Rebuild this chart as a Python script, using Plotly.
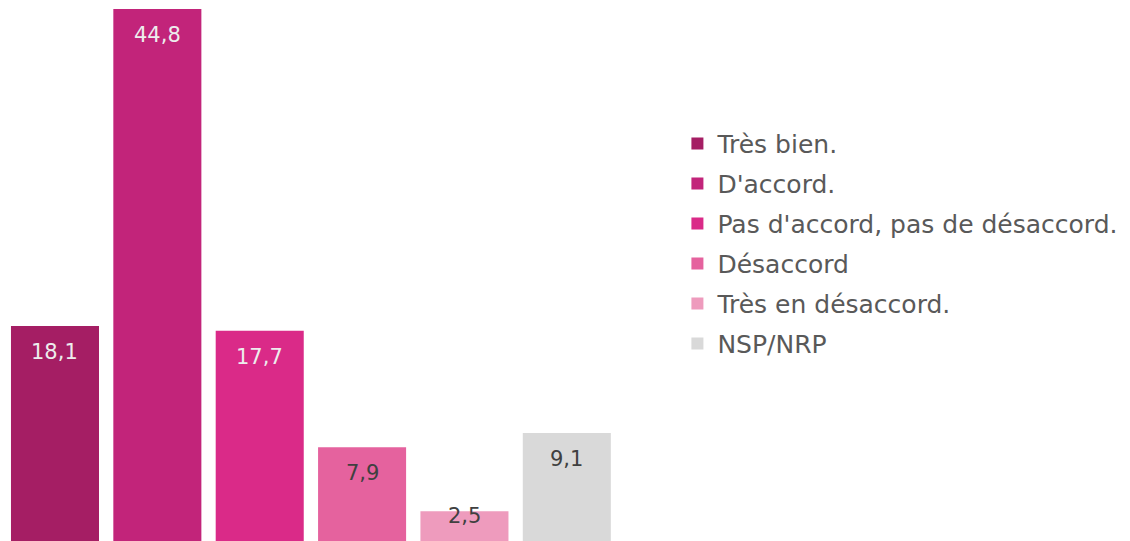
import plotly.graph_objects as go

categories = ["Très bien.", "D'accord.", "Pas d'accord, pas de désaccord.",
              "Désaccord", "Très en désaccord.", "NSP/NRP"]
values = [18.1, 44.8, 17.7, 7.9, 2.5, 9.1]
labels = ["18,1", "44,8", "17,7", "7,9", "2,5", "9,1"]
colors = ["#A51E64", "#C2247A", "#DA2A88", "#E5629E", "#EE9BBD", "#D9D9D9"]
label_colors = ["#EDEDED", "#EDEDED", "#EDEDED", "#404040", "#404040", "#404040"]

W, H = 1122, 533
mt, mb, ml, mr = 1, 0, 0, 512
plot_h = H - mt - mb
ymax = max(values)

fig = go.Figure()
for i, (c, v) in enumerate(zip(categories, values)):
    fig.add_trace(go.Bar(
        x=[i], y=[v], name=c, marker=dict(color=colors[i], line=dict(width=0)),
        legendgroup=f"g{i}", hoverinfo="skip",
    ))

annotations = []
for i, v in enumerate(values):
    bar_px = v / ymax * plot_h
    shift = -min(26, bar_px - 25)
    annotations.append(dict(
        x=i, y=v, xref="x", yref="y", text=labels[i], showarrow=False,
        yanchor="middle", yshift=shift,
        font=dict(family="DejaVu Sans", size=21, color=label_colors[i]),
    ))

fig.update_layout(
    width=W, height=H,
    margin=dict(l=ml, r=mr, t=mt, b=mb, autoexpand=False),
    barmode="overlay", bargap=0.14,
    plot_bgcolor="white", paper_bgcolor="white",
    xaxis=dict(visible=False, range=[-0.459, len(values) - 0.5]),
    yaxis=dict(visible=False, range=[0, ymax]),
    showlegend=True,
    legend=dict(
        x=1.0974, y=0.79, xanchor="left", yanchor="top",
        font=dict(family="DejaVu Sans", size=25, color="#595959"),
        tracegroupgap=4.5, bgcolor="rgba(0,0,0,0)",
    ),
    annotations=annotations,
)

fig.write_html("out.html")
